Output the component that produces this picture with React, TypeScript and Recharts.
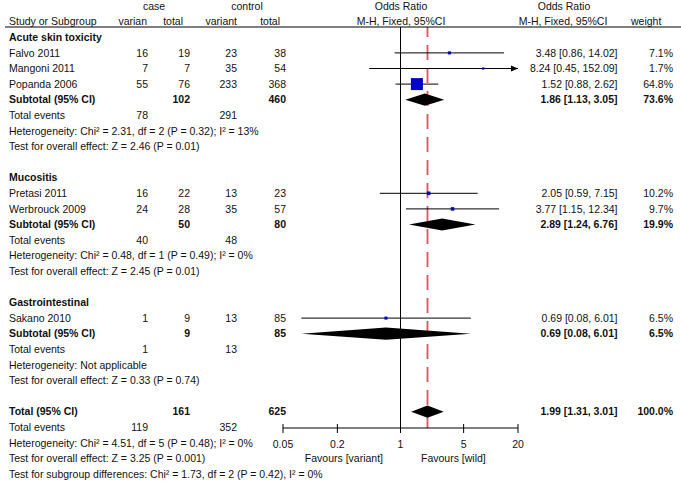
import { ComposedChart, XAxis, YAxis, Scatter, Area, ReferenceLine, Customized } from 'recharts'

const W = 681
const H = 483
const FONT = '"Liberation Sans", Arial, sans-serif'
const FS = 10.5
const INK = '#111'

// study rows
const studyNames = ['Falvo 2011', 'Mangoni 2011', 'Popanda 2006', 'Pretasi 2011', 'Werbrouck 2009', 'Sakano 2010']
const studyRows = [1, 2, 3, 10, 11, 18]
const caseEvents = [16, 7, 55, 16, 24, 1]
const caseTotal = [19, 7, 76, 22, 28, 9]
const ctrlEvents = [23, 35, 233, 13, 35, 13]
const ctrlTotal = [38, 54, 368, 23, 57, 85]
const studyOR = [3.48, 8.24, 1.52, 2.05, 3.77, 0.69]
const studyLo = [0.86, 0.45, 0.88, 0.59, 1.15, 0.08]
const studyHi = [14.02, 152.09, 2.62, 7.15, 12.34, 6.01]
const studyWeight = [7.1, 1.7, 64.8, 10.2, 9.7, 6.5]

// pooled rows
const poolLabels = ['Subtotal (95% CI)', 'Subtotal (95% CI)', 'Subtotal (95% CI)', 'Total (95% CI)']
const poolRows = [4, 12, 19, 24]
const poolCaseTotal = [102, 50, 9, 161]
const poolCtrlTotal = [460, 80, 85, 625]
const poolOR = [1.86, 2.89, 0.69, 1.99]
const poolLo = [1.13, 1.24, 0.08, 1.31]
const poolHi = [3.05, 6.76, 6.01, 3.01]
const poolWeight = [73.6, 19.9, 6.5, 100.0]

const eventRows = [5, 13, 20, 25]
const eventsCase = [78, 40, 1, 119]
const eventsCtrl = [291, 48, 13, 352]

const groupNames = ['Acute skin toxicity', 'Mucositis', 'Gastrointestinal']
const groupRows = [0, 9, 17]

const noteRows = [6, 7, 14, 15, 21, 22, 26, 27, 28]
const noteTexts = [
  'Heterogeneity: Chi² = 2.31, df = 2 (P = 0.32); I² = 13%',
  'Test for overall effect: Z = 2.46 (P = 0.01)',
  'Heterogeneity: Chi² = 0.48, df = 1 (P = 0.49); I² = 0%',
  'Test for overall effect: Z = 2.45 (P = 0.01)',
  'Heterogeneity: Not applicable',
  'Test for overall effect: Z = 0.33 (P = 0.74)',
  'Heterogeneity: Chi² = 4.51, df = 5 (P = 0.48); I² = 0%',
  'Test for overall effect: Z = 3.25 (P = 0.001)',
  'Test for subgroup differences: Chi² = 1.73, df = 2 (P = 0.42), I² = 0%',
]

const xTicks = [0.05, 0.2, 1, 5, 20]
const X_MIN = 0.05
const X_MAX = 20

// layout
const ROW0 = 37.3
const ROW_H = 15.6
const PLOT_TOP = 27
const PLOT_BOTTOM = 428
const PLOT_LEFT = 283
const PLOT_RIGHT = 518
const rowY = (r: number) => ROW0 + ROW_H * r
const yDomain = [(PLOT_TOP - ROW0) / ROW_H, (PLOT_BOTTOM - ROW0) / ROW_H]

const COL = { label: 9, caseEv: 148, caseTot: 190, ctrlEv: 237, ctrlTot: 286, ci: 617.5, weight: 673 }

const studyData = studyNames.map((n, i) => ({ x: studyOR[i], y: studyRows[i], w: studyWeight[i] }))

const diamonds = poolRows.map((r, i) => [
  { x: poolLo[i], band: [r, r] },
  { x: poolOR[i], band: [r - 0.39, r + 0.39] },
  { x: poolHi[i], band: [r, r] },
])

const ciText = (or: number, lo: number, hi: number) => `${or.toFixed(2)} [${lo.toFixed(2)}, ${hi.toFixed(2)}]`

function T({ x, row, children, anchor = 'start', bold = false }: any) {
  return (
    <text
      x={x}
      y={rowY(row)}
      dy="0.35em"
      textAnchor={anchor}
      fontFamily={FONT}
      fontSize={FS}
      fontWeight={bold ? 'bold' : 'normal'}
      fill={INK}
    >
      {children}
    </text>
  )
}

function TextLayer() {
  return (
    <g>
      {/* headers */}
      <T x={154} row={-2} anchor="middle">case</T>
      <T x={247} row={-2} anchor="middle">control</T>
      <T x={401} row={-2} anchor="middle">Odds Ratio</T>
      <T x={564} row={-2} anchor="middle">Odds Ratio</T>
      <T x={COL.label} row={-1}>Study or Subgroup</T>
      <T x={147} row={-1} anchor="end">varian</T>
      <T x={183} row={-1} anchor="end">total</T>
      <T x={237} row={-1} anchor="end">variant</T>
      <T x={280} row={-1} anchor="end">total</T>
      <T x={401} row={-1} anchor="middle">M-H, Fixed, 95%CI</T>
      <T x={563} row={-1} anchor="middle">M-H, Fixed, 95%CI</T>
      <T x={631} row={-1}>weight</T>
      <line x1={5} x2={W} y1={PLOT_TOP} y2={PLOT_TOP} stroke="#000" strokeWidth={1} />

      {groupNames.map((g, i) => (
        <T key={g} x={COL.label} row={groupRows[i]} bold>{g}</T>
      ))}

      {studyNames.map((n, i) => (
        <g key={n}>
          <T x={COL.label} row={studyRows[i]}>{n}</T>
          <T x={COL.caseEv} row={studyRows[i]} anchor="end">{caseEvents[i]}</T>
          <T x={COL.caseTot} row={studyRows[i]} anchor="end">{caseTotal[i]}</T>
          <T x={COL.ctrlEv} row={studyRows[i]} anchor="end">{ctrlEvents[i]}</T>
          <T x={COL.ctrlTot} row={studyRows[i]} anchor="end">{ctrlTotal[i]}</T>
          <T x={COL.ci} row={studyRows[i]} anchor="end">{ciText(studyOR[i], studyLo[i], studyHi[i])}</T>
          <T x={COL.weight} row={studyRows[i]} anchor="end">{studyWeight[i].toFixed(1)}%</T>
        </g>
      ))}

      {poolRows.map((r, i) => (
        <g key={r}>
          <T x={COL.label} row={r} bold>{poolLabels[i]}</T>
          <T x={COL.caseTot} row={r} anchor="end" bold>{poolCaseTotal[i]}</T>
          <T x={COL.ctrlTot} row={r} anchor="end" bold>{poolCtrlTotal[i]}</T>
          <T x={COL.ci} row={r} anchor="end" bold>{ciText(poolOR[i], poolLo[i], poolHi[i])}</T>
          <T x={COL.weight} row={r} anchor="end" bold>{poolWeight[i].toFixed(1)}%</T>
        </g>
      ))}

      {eventRows.map((r, i) => (
        <g key={r}>
          <T x={COL.label} row={r}>Total events</T>
          <T x={COL.caseEv} row={r} anchor="end">{eventsCase[i]}</T>
          <T x={COL.ctrlEv} row={r} anchor="end">{eventsCtrl[i]}</T>
        </g>
      ))}

      {noteRows.map((r, i) => (
        <T key={r} x={COL.label} row={r}>{noteTexts[i]}</T>
      ))}

      <T x={383} row={27} anchor="end">Favours [variant]</T>
      <T x={421} row={27}>Favours [wild]</T>
    </g>
  )
}

const AxisTick = (props: any) => {
  const { x, y, payload } = props
  return (
    <g>
      <line x1={x} x2={x} y1={y - 4} y2={y + 5} stroke="#000" strokeWidth={1} />
      <text x={x} y={y + 16} dy="0.35em" textAnchor="middle" fontFamily={FONT} fontSize={FS} fill={INK}>
        {payload.value}
      </text>
    </g>
  )
}

const ciShape = (arrow: boolean) => (p: any) => (
  <g>
    <line x1={p.x1} y1={p.y1} x2={p.x2} y2={p.y2} stroke="#000" strokeWidth={1} />
    {arrow && (
      <polygon points={`${p.x2},${p.y2} ${p.x2 - 7},${p.y2 - 3} ${p.x2 - 7},${p.y2 + 3}`} fill="#000" />
    )}
  </g>
)

const Square = (p: any) => {
  const s = 2 + (10 * p.payload.w) / 64.8
  return <rect x={p.cx - s / 2} y={p.cy - s / 2} width={s} height={s} fill="#0000c8" />
}

export default function App() {
  return (
    <div style={{ position: 'absolute', left: 0, top: 0, width: W, height: H, background: '#fff' }}>
      <ComposedChart
        width={W}
        height={H}
        margin={{ top: PLOT_TOP, right: W - PLOT_RIGHT, bottom: H - PLOT_BOTTOM - 30, left: PLOT_LEFT }}
      >
        <XAxis
          type="number"
          dataKey="x"
          scale="log"
          domain={[X_MIN, X_MAX]}
          allowDataOverflow
          ticks={xTicks}
          interval={0}
          height={30}
          tickSize={0}
          tickMargin={0}
          tickLine={false}
          axisLine={{ stroke: '#000', strokeWidth: 1 }}
          tick={<AxisTick />}
        />
        <YAxis type="number" dataKey="y" domain={yDomain} reversed allowDataOverflow hide />

        <ReferenceLine x={1} stroke="#000" strokeWidth={1} ifOverflow="visible" zIndex={-10} />
        <ReferenceLine
          x={poolOR[3]}
          stroke="#e2505e"
          strokeWidth={1.8}
          strokeDasharray="15 8"
          ifOverflow="visible"
          zIndex={-10}
        />

        {studyNames.map((n, i) => (
          <ReferenceLine
            key={n}
            ifOverflow="visible"
            zIndex={-5}
            segment={[
              { x: Math.max(studyLo[i], X_MIN), y: studyRows[i] },
              { x: Math.min(studyHi[i], X_MAX), y: studyRows[i] },
            ]}
            shape={ciShape(studyHi[i] > X_MAX)}
          />
        ))}

        {diamonds.map((d, i) => (
          <Area
            key={i}
            data={d}
            dataKey="band"
            type="linear"
            stroke="none"
            fill="#000"
            fillOpacity={1}
            dot={false}
            activeDot={false}
            isAnimationActive={false}
          />
        ))}

        <Scatter data={studyData} shape={<Square />} isAnimationActive={false} />

        <Customized component={<TextLayer />} />
      </ComposedChart>
    </div>
  )
}
